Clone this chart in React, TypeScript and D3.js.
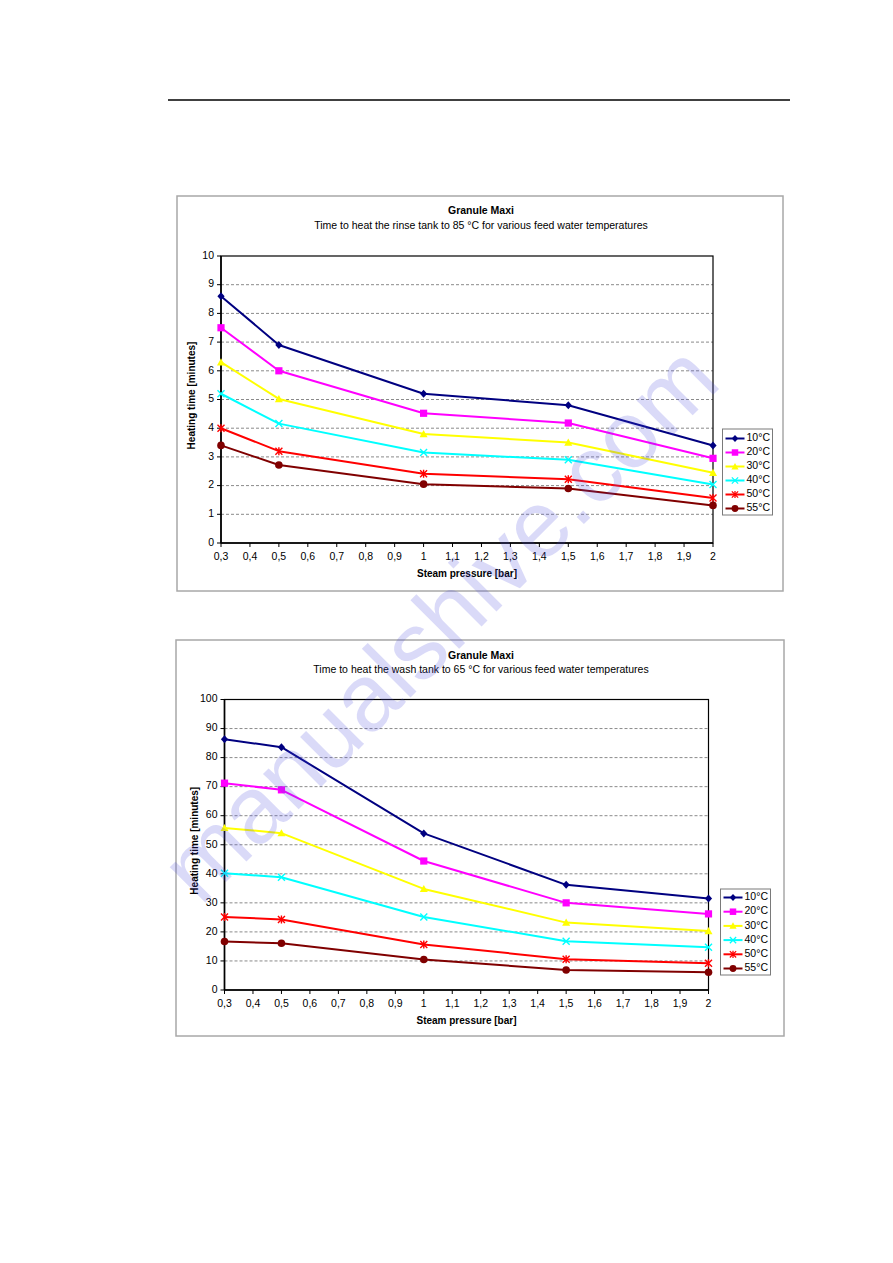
import React from "react";
import * as d3 from "d3";

// ---------- data ----------
const pressures = [0.3, 0.5, 1, 1.5, 2];
const seriesNames = ["10°C", "20°C", "30°C", "40°C", "50°C", "55°C"];

// Chart 1: rinse tank to 85 °C (minutes)
const rinse10 = [8.6, 6.9, 5.2, 4.8, 3.4];
const rinse20 = [7.5, 6.0, 4.52, 4.18, 2.95];
const rinse30 = [6.3, 5.02, 3.8, 3.5, 2.45];
const rinse40 = [5.2, 4.16, 3.15, 2.9, 2.04];
const rinse50 = [4.0, 3.2, 2.41, 2.22, 1.57];
const rinse55 = [3.4, 2.72, 2.05, 1.9, 1.31];

// Chart 2: wash tank to 65 °C (minutes)
const wash10 = [86.3, 83.6, 53.9, 36.2, 31.5];
const wash20 = [71.2, 68.9, 44.4, 30.0, 26.2];
const wash30 = [55.8, 54.0, 34.8, 23.2, 20.3];
const wash40 = [40.2, 38.8, 25.1, 16.8, 14.7];
const wash50 = [25.1, 24.3, 15.7, 10.6, 9.2];
const wash55 = [16.7, 16.1, 10.5, 6.9, 6.1];

const xTicks = d3.range(3, 21).map((d) => d / 10);
const rinseYTicks = d3.range(0, 11, 1);
const washYTicks = d3.range(0, 101, 10);

const chartTitle = "Granule Maxi";
const rinseSubtitle = "Time to heat the rinse tank to 85 °C for various feed water temperatures";
const washSubtitle = "Time to heat the wash tank to 65 °C for various feed water temperatures";
const xLabel = "Steam pressure [bar]";
const yLabel = "Heating time [minutes]";

// ---------- styles ----------
const colors = ["#000080", "#FF00FF", "#FFFF00", "#00FFFF", "#FF0000", "#800000"];
const markerKinds = ["diamond", "square", "triangle", "x", "star", "circle"];
const FONT = "'Liberation Sans', Arial, sans-serif";

function Marker({ kind, color, x, y, s = 1 }: { kind: string; color: string; x: number; y: number; s?: number }) {
  const t = `translate(${x},${y}) scale(${s})`;
  switch (kind) {
    case "diamond":
      return <path transform={t} d="M0,-4L3.6,0L0,4L-3.6,0Z" fill={color} />;
    case "square":
      return <rect transform={t} x={-3.6} y={-3.6} width={7.2} height={7.2} fill={color} />;
    case "triangle":
      return <path transform={t} d="M0,-4L4,3.2L-4,3.2Z" fill={color} />;
    case "x":
      return <path transform={t} d="M-3.5,-3.5L3.5,3.5M-3.5,3.5L3.5,-3.5" stroke={color} strokeWidth={1.4} fill="none" />;
    case "star":
      return (
        <path transform={t} d="M-3.5,-3.5L3.5,3.5M-3.5,3.5L3.5,-3.5M0,-4L0,4" stroke={color} strokeWidth={1.4} fill="none" />
      );
    default:
      return <circle transform={t} r={3.8} fill={color} />;
  }
}

type Layout = {
  frame: [number, number, number, number];
  plot: [number, number, number, number]; // left, top, right, bottom
  titleY: number;
  legend: [number, number, number, number]; // x, y, w, h
  legendRow0: number;
  legendStep: number;
};

function Chart({ layout, series, yMax, yTicks, subtitle }: {
  layout: Layout; series: number[][]; yMax: number; yTicks: number[]; subtitle: string;
}) {
  const [fx, fy, fw, fh] = layout.frame;
  const [pl, pt, pr, pb] = layout.plot;
  const x = d3.scaleLinear().domain([0.3, 2]).range([pl, pr]);
  const y = d3.scaleLinear().domain([0, yMax]).range([pb, pt]);
  const line = d3.line<number>().x((_, i) => x(pressures[i])).y((d) => y(d));
  const cx = (fx + fx + fw) / 2 + 1;
  const [lx, ly, lw, lh] = layout.legend;
  return (
    <g fontFamily={FONT}>
      <rect x={fx} y={fy} width={fw} height={fh} fill="#fff" stroke="#a8a8a8" strokeWidth={1.5} />
      <text x={cx} y={layout.titleY} textAnchor="middle" fontSize={10.5} fontWeight="bold" dominantBaseline="middle">
        {chartTitle}
      </text>
      <text x={cx} y={layout.titleY + 14.5} textAnchor="middle" fontSize={10.5} dominantBaseline="middle">
        {subtitle}
      </text>
      {/* grid */}
      {yTicks.filter((t) => t > 0 && t < yMax).map((t) => (
        <line key={t} x1={pl} x2={pr} y1={y(t)} y2={y(t)} stroke="#8a8a8a" strokeWidth={1} strokeDasharray="3,2" />
      ))}
      {/* plot border */}
      <rect x={pl} y={pt} width={pr - pl} height={pb - pt} fill="none" stroke="#000" strokeWidth={1.2} />
      <line x1={pl} x2={pl} y1={pt} y2={pb} stroke="#000" strokeWidth={1.6} />
      <line x1={pl} x2={pr} y1={pb} y2={pb} stroke="#000" strokeWidth={1.6} />
      {/* y ticks */}
      {yTicks.map((t) => (
        <g key={t}>
          <line x1={pl - 4} x2={pl} y1={y(t)} y2={y(t)} stroke="#000" />
          <text x={pl - 7} y={y(t)} textAnchor="end" dominantBaseline="middle" fontSize={10.5}>
            {t}
          </text>
        </g>
      ))}
      {/* x ticks */}
      {xTicks.map((t) => (
        <g key={t}>
          <line x1={x(t)} x2={x(t)} y1={pb} y2={pb + 4} stroke="#000" />
          <text x={x(t)} y={pb + 14} textAnchor="middle" dominantBaseline="middle" fontSize={10.5}>
            {String(t).replace(".", ",")}
          </text>
        </g>
      ))}
      <text x={(pl + pr) / 2} y={pb + 31} textAnchor="middle" dominantBaseline="middle" fontSize={10} fontWeight="bold">
        {xLabel}
      </text>
      <text
        transform={`translate(${pl - 29},${(pt + pb) / 2 - 4}) rotate(-90)`}
        textAnchor="middle"
        dominantBaseline="middle"
        fontSize={10}
        fontWeight="bold"
      >
        {yLabel}
      </text>
      {/* series */}
      {series.map((vals, si) => (
        <g key={si}>
          <path d={line(vals) || ""} fill="none" stroke={colors[si]} strokeWidth={2} strokeLinejoin="round" />
          {vals.map((v, i) => (
            <Marker key={i} kind={markerKinds[si]} color={colors[si]} x={x(pressures[i])} y={y(v)} />
          ))}
        </g>
      ))}
      {/* legend */}
      <rect x={lx} y={ly} width={lw} height={lh} fill="#fff" stroke="#7a7a7a" strokeWidth={1} />
      {seriesNames.map((n, i) => {
        const ry = layout.legendRow0 + i * layout.legendStep;
        return (
          <g key={n}>
            <line x1={lx + 3} x2={lx + 22} y1={ry} y2={ry} stroke={colors[i]} strokeWidth={2} />
            <Marker kind={markerKinds[i]} color={colors[i]} x={lx + 12.5} y={ry} s={0.9} />
            <text x={lx + 24} y={ry} dominantBaseline="middle" fontSize={10.5}>
              {n}
            </text>
          </g>
        );
      })}
    </g>
  );
}

const topLayout: Layout = {
  frame: [177, 196, 606, 395],
  plot: [221, 256, 713, 543],
  titleY: 211.5,
  legend: [722.5, 429, 50, 86],
  legendRow0: 438.5,
  legendStep: 14,
};

const bottomLayout: Layout = {
  frame: [176, 640, 608, 396],
  plot: [224.5, 699.5, 708.5, 990],
  titleY: 656,
  legend: [720.5, 889, 50, 86],
  legendRow0: 897.5,
  legendStep: 14.2,
};

export default function App() {
  return (
    <svg width={893} height={1263} style={{ position: "absolute", left: 0, top: 0, background: "#fff" }}>
      <rect x={0} y={0} width={893} height={1263} fill="#fff" />
      <line x1={168} x2={790} y1={100} y2={100} stroke="#000" strokeWidth={1.3} />
      <Chart
        layout={topLayout}
        series={[rinse10, rinse20, rinse30, rinse40, rinse50, rinse55]}
        yMax={10}
        yTicks={rinseYTicks}
        subtitle={rinseSubtitle}
      />
      <Chart
        layout={bottomLayout}
        series={[wash10, wash20, wash30, wash40, wash50, wash55]}
        yMax={100}
        yTicks={washYTicks}
        subtitle={washSubtitle}
      />
      <text
        transform="translate(462,646) rotate(-45)"
        textAnchor="middle"
        fontFamily={FONT}
        fontSize={95}
        fill="#4a4ae0"
        opacity={0.2}
      >
        manualshive.com
      </text>
    </svg>
  );
}
